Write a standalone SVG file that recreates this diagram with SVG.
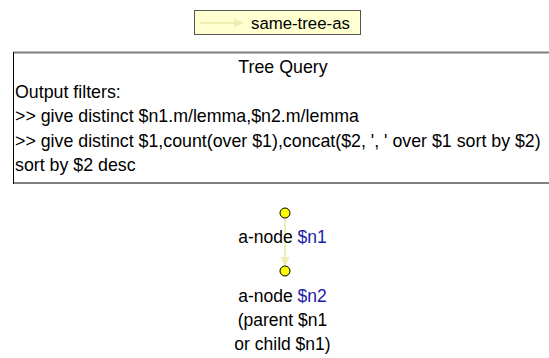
<svg xmlns="http://www.w3.org/2000/svg" width="549" height="358" viewBox="0 0 549 358">
<style>
text{font-family:"Liberation Sans",Arial,sans-serif;font-size:17.5px;fill:#000}
.bx{font-size:17.8px}
.lg{font-size:16.8px}
.var{fill:#1c1ca8}
.edge{stroke:#eeeeb0;stroke-width:2;fill:none}
.nd{fill:#ffff00;stroke:#000;stroke-width:1}
</style>
<defs>
<marker id="ah" markerWidth="10" markerHeight="10" refX="9" refY="5" orient="auto" markerUnits="userSpaceOnUse">
<path d="M0,0.5 L10,5 L0,9.5 Z" fill="#eeeeb0"/>
</marker>
</defs>
<g id="legend">
<rect x="194.5" y="10.5" width="166" height="24" fill="#ffffd0" stroke="#555" stroke-width="1"/>
<line x1="200" y1="23" x2="243" y2="23" class="edge" stroke-width="1.2" marker-end="url(#ah)"/>
<text class="lg" x="251" y="29">same-tree-as</text>
</g>
<g id="query">
<line x1="13" y1="52.5" x2="549" y2="52.5" stroke="#808080" stroke-width="2"/>
<line x1="13" y1="183" x2="549" y2="183" stroke="#808080" stroke-width="2"/>
<line x1="13.5" y1="52" x2="13.5" y2="184" stroke="#000" stroke-width="1"/>
<text class="bx" x="283" y="73" text-anchor="middle">Tree Query</text>
<text class="bx" x="15" y="98">Output filters:</text>
<text class="bx" x="15" y="122">&gt;&gt; give distinct $n1.m/lemma,$n2.m/lemma</text>
<text class="bx" x="15" y="146.5">&gt;&gt; give distinct $1,count(over $1),concat($2, ', ' over $1 sort by $2)</text>
<text class="bx" x="15" y="171">sort by $2 desc</text>
</g>
<g id="connectors">
<line x1="285" y1="218" x2="285" y2="266" class="edge" marker-end="url(#ah)"/>
</g>
<g id="n1">
<circle cx="285" cy="213" r="5" class="nd"/>
<text x="282.5" y="243" text-anchor="middle">a-node <tspan class="var">$n1</tspan></text>
</g>
<g id="n2">
<circle cx="285" cy="271" r="5" class="nd"/>
<text x="282.5" y="302" text-anchor="middle">a-node <tspan class="var">$n2</tspan></text>
<text x="282.5" y="326" text-anchor="middle">(parent $n1</text>
<text x="282.5" y="350" text-anchor="middle">or child $n1)</text>
</g>
</svg>
